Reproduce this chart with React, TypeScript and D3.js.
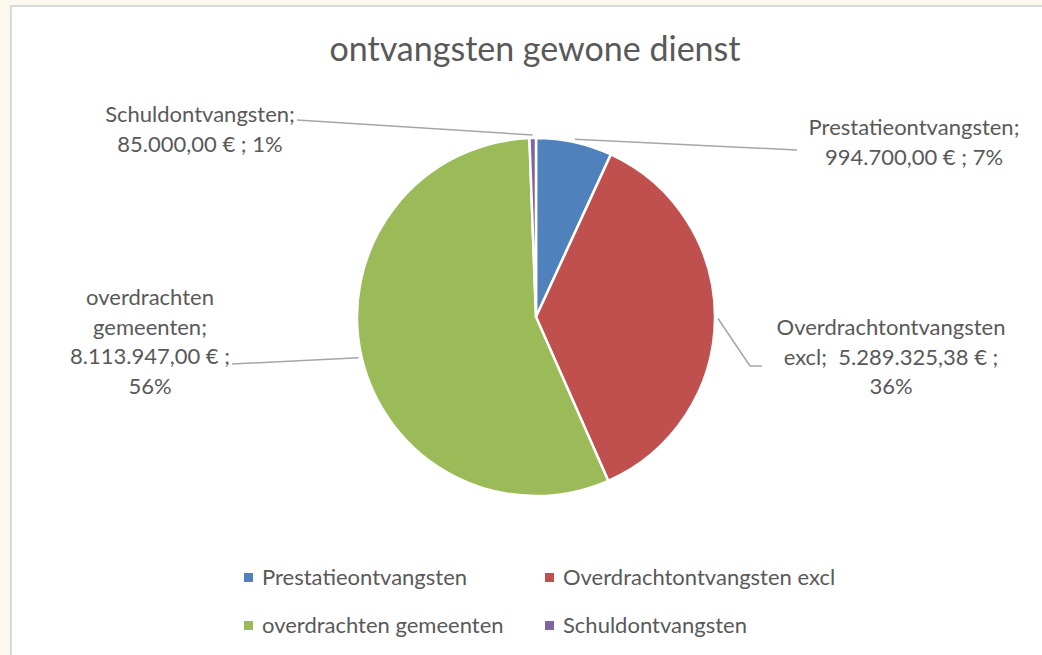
import React from 'react';
import * as d3 from 'd3';

// slice data (euro)
const categories = ['Prestatieontvangsten', 'Overdrachtontvangsten excl', 'overdrachten gemeenten', 'Schuldontvangsten'];
const amounts = [994700, 5289325.38, 8113947, 85000];
// percentages as Excel printed them (rounded so they add up to 100)
const percents = ['7%', '36%', '56%', '1%'];
const colors = ['#4F81BD', '#C0504D', '#9BBB59', '#8064A2'];
// how each data label is broken into lines (Excel wraps these by hand)
const labelLines = [
  ['Prestatieontvangsten;', '{v} ; {p}'],
  ['Overdrachtontvangsten', 'excl;\u00a0 {v} ;', '{p}'],
  ['overdrachten', 'gemeenten;', '{v} ;', '{p}'],
  ['Schuldontvangsten;', '{v} ; {p}'],
];
const title = 'ontvangsten gewone dienst';

const W = 1042;
const H = 655;
const cx = 536;
const cy = 317;
const R = 179;
const FONT = 'Lato, "Open Sans", sans-serif';
const TXT = '#595959';

// label placement: centre x, first baseline, and the point where the leader line ends
const labelPos = [
  { x: 914, y: 135, end: [797, 150] as [number, number], elbow: null as null | [number, number] },
  { x: 891, y: 335, end: [762, 366] as [number, number], elbow: [750, 366] as [number, number] },
  { x: 150, y: 305, end: [232, 364] as [number, number], elbow: null },
  { x: 200, y: 122, end: [297, 120] as [number, number], elbow: null },
];

const fmtNum = (v: number) => {
  const s = v.toFixed(2).split('.');
  const int = s[0].replace(/\B(?=(\d{3})+(?!\d))/g, '.');
  return `${int},${s[1]}\u00a0€`;
};

const App = () => {
  const arcs = d3.pie<number>().sort(null).value(d => d)(amounts);
  const arc = d3.arc<d3.PieArcDatum<number>>().innerRadius(0).outerRadius(R);

  return (
    <div style={{ position: 'fixed', left: 0, top: 0 }}>
      <svg width={W} height={H} style={{ display: 'block' }}>
        <rect x={0} y={0} width={W} height={H} fill="#fdf8ee" />
        <rect x={11} y={6} width={W} height={H} fill="#ffffff" stroke="#d9d9d9" strokeWidth={2} />
        <text x={535} y={61} textAnchor="middle" fontFamily={FONT} fontSize={34} fill={TXT}>
          {title}
        </text>
        <g transform={`translate(${cx},${cy})`}>
          {arcs.map((a, i) => (
            <path key={i} d={arc(a) || ''} fill={colors[i]} stroke="#fff" strokeWidth={2.5} />
          ))}
        </g>
        {arcs.map((a, i) => {
          const mid = (a.startAngle + a.endAngle) / 2;
          const sx = cx + (R + 3) * Math.sin(mid);
          const sy = cy - (R + 3) * Math.cos(mid);
          const p = labelPos[i];
          const pts: [number, number][] = [[sx, sy]];
          if (p.elbow) pts.push(p.elbow);
          pts.push(p.end);
          return (
            <path key={i} d={d3.line()(pts) || ''} fill="none" stroke="#a6a6a6" strokeWidth={1.5} />
          );
        })}
        {labelLines.map((lines, i) => {
          const p = labelPos[i];
          return (
            <text key={i} textAnchor="middle" fontFamily={FONT} fontSize={22} fill={TXT}>
              {lines.map((l, j) => (
                <tspan key={j} x={p.x} y={p.y + j * 29.5}>
                  {l.replace('{v}', fmtNum(amounts[i])).replace('{p}', percents[i])}
                </tspan>
              ))}
            </text>
          );
        })}
        {categories.map((c, i) => {
          const lx = i % 2 === 0 ? 244 : 545;
          const ly = i < 2 ? 578 : 626;
          return (
            <g key={c}>
              <rect x={lx} y={ly - 5} width={9} height={9} fill={colors[i]} />
              <text x={lx + 18} y={ly + 7} fontFamily={FONT} fontSize={22} fill={TXT}>
                {c}
              </text>
            </g>
          );
        })}
      </svg>
    </div>
  );
};

export default App;
